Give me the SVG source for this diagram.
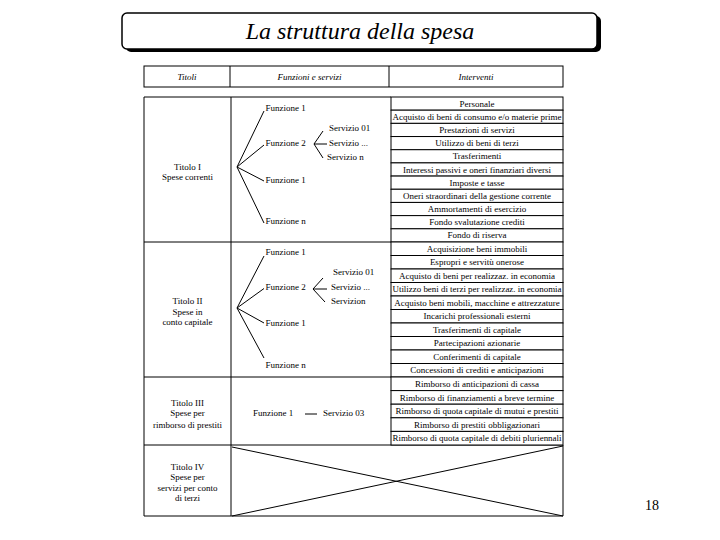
<svg xmlns="http://www.w3.org/2000/svg" width="720" height="540" viewBox="0 0 720 540">
<style>
text{font-family:"Liberation Serif","Times New Roman",serif;fill:#000}
.t{font-size:9px}
.c{text-anchor:middle}
.h{font-size:9px;font-style:italic;text-anchor:middle}
.ln{stroke:#000;stroke-width:1;fill:none}
.bx{fill:#fff;stroke:#000;stroke-width:1}
</style>
<rect width="720" height="540" fill="#fff"/>
<g id="title">
<rect x="126" y="16" width="475" height="36" rx="5" fill="#000"/>
<rect x="122" y="13" width="475" height="36" rx="5" fill="#fff" stroke="#000" stroke-width="1.5"/>
<text x="360" y="39" font-size="24" font-style="italic" text-anchor="middle">La struttura della spesa</text>
</g>
<g id="header">
<rect class="bx" x="144" y="66" width="419" height="21"/>
<line class="ln" x1="230" y1="66" x2="230" y2="87"/>
<line class="ln" x1="389" y1="66" x2="389" y2="87"/>
<text class="h" x="187" y="79.5">Titoli</text>
<text class="h" x="309.5" y="79.5">Funzioni e servizi</text>
<text class="h" x="476" y="79.5">Interventi</text>
</g>
<g id="frame">
<path class="ln" d="M144,97 H391 M144,97 V516 H563 V445 M231,97 V516 M144,242 H391 M144,377 H391 M144,445 H563"/>
</g>
<g id="titolo1">
<text class="t c" x="187.5" y="170.3">Titolo I</text>
<text class="t c" x="187.5" y="180">Spese correnti</text>
</g>
<g id="titolo2">
<text class="t c" x="187.5" y="303.7">Titolo II</text>
<text class="t c" x="187.5" y="314.7">Spese in</text>
<text class="t c" x="187.5" y="324.7">conto capitale</text>
</g>
<g id="titolo3">
<text class="t c" x="187.5" y="405.7">Titolo III</text>
<text class="t c" x="187.5" y="416.3">Spese per</text>
<text class="t c" x="187.5" y="428">rimborso di prestiti</text>
</g>
<g id="titolo4">
<text class="t c" x="187.5" y="469.7">Titolo IV</text>
<text class="t c" x="187.5" y="479.7">Spese per</text>
<text class="t c" x="187.5" y="491.3">servizi per conto</text>
<text class="t c" x="187.5" y="501.3">di terzi</text>
</g>
<g id="funzioni1">
<text class="t" x="265.5" y="110.5">Funzione 1</text>
<text class="t" x="265.5" y="145.5">Funzione 2</text>
<text class="t" x="265.5" y="182.5">Funzione 1</text>
<text class="t" x="265.5" y="224">Funzione n</text>
<text class="t" x="329" y="131">Servizio 01</text>
<text class="t" x="329" y="146">Servizio ...</text>
<text class="t" x="327" y="160">Servizio n</text>
</g>
<g id="funzioni2">
<text class="t" x="265.5" y="255">Funzione 1</text>
<text class="t" x="265.5" y="290">Funzione 2</text>
<text class="t" x="265.5" y="326">Funzione 1</text>
<text class="t" x="265.5" y="368">Funzione n</text>
<text class="t" x="333" y="275">Servizio 01</text>
<text class="t" x="331" y="290">Servizio ...</text>
<text class="t" x="331" y="304">Servizion</text>
</g>
<g id="funzioni3">
<text class="t" x="253" y="415.7">Funzione 1</text>
<text class="t" x="323" y="415.7">Servizio 03</text>
</g>
<g id="connectors">
<path class="ln" d="M237,167 L264,111 M237,167 L264,145 M237,167 L264,181 M237,167 L264,223"/>
<path class="ln" d="M314,144 L323,131 M314,144 L327,144 M314,144 L323,158"/>
<path class="ln" d="M237,308 L264,256 M237,308 L264,288.5 M237,308 L264,323 M237,308 L264,358"/>
<path class="ln" d="M313,289 L323,278 M313,289 L327,289 M313,289 L325,302"/>
<path class="ln" d="M305,414 L317,414"/>
<path class="ln" d="M232,447 L563,516 M232,516 L563,446"/>
</g>
<g id="interventi">
<rect class="bx" x="391" y="97" width="172" height="13.18"/>
<rect class="bx" x="391" y="110.18" width="172" height="13.18"/>
<rect class="bx" x="391" y="123.36" width="172" height="13.18"/>
<rect class="bx" x="391" y="136.54" width="172" height="13.18"/>
<rect class="bx" x="391" y="149.72" width="172" height="13.18"/>
<rect class="bx" x="391" y="162.9" width="172" height="13.18"/>
<rect class="bx" x="391" y="176.08" width="172" height="13.18"/>
<rect class="bx" x="391" y="189.26" width="172" height="13.18"/>
<rect class="bx" x="391" y="202.44" width="172" height="13.18"/>
<rect class="bx" x="391" y="215.62" width="172" height="13.18"/>
<rect class="bx" x="391" y="228.8" width="172" height="13.2"/>
<rect class="bx" x="391" y="242" width="172" height="13.5"/>
<rect class="bx" x="391" y="255.5" width="172" height="13.5"/>
<rect class="bx" x="391" y="269" width="172" height="13.5"/>
<rect class="bx" x="391" y="282.5" width="172" height="13.5"/>
<rect class="bx" x="391" y="296" width="172" height="13.5"/>
<rect class="bx" x="391" y="309.5" width="172" height="13.5"/>
<rect class="bx" x="391" y="323" width="172" height="13.5"/>
<rect class="bx" x="391" y="336.5" width="172" height="13.5"/>
<rect class="bx" x="391" y="350" width="172" height="13.5"/>
<rect class="bx" x="391" y="363.5" width="172" height="13.5"/>
<rect class="bx" x="391" y="377" width="172" height="13.6"/>
<rect class="bx" x="391" y="390.6" width="172" height="13.6"/>
<rect class="bx" x="391" y="404.2" width="172" height="13.6"/>
<rect class="bx" x="391" y="417.8" width="172" height="13.6"/>
<rect class="bx" x="391" y="431.4" width="172" height="13.6"/>
<text class="t c" x="477" y="106.6">Personale</text>
<text class="t c" x="477" y="119.8">Acquisto di beni di consumo e/o materie prime</text>
<text class="t c" x="477" y="133">Prestazioni di servizi</text>
<text class="t c" x="477" y="146.1">Utilizzo di beni di terzi</text>
<text class="t c" x="477" y="159.3">Trasferimenti</text>
<text class="t c" x="477" y="172.5">Interessi passivi e oneri finanziari diversi</text>
<text class="t c" x="477" y="185.7">Imposte e tasse</text>
<text class="t c" x="477" y="198.9">Oneri straordinari della gestione corrente</text>
<text class="t c" x="477" y="212">Ammortamenti di esercizio</text>
<text class="t c" x="477" y="225.2">Fondo svalutazione crediti</text>
<text class="t c" x="477" y="238.4">Fondo di riserva</text>
<text class="t c" x="477" y="251.8">Acquisizione beni immobili</text>
<text class="t c" x="477" y="265.3">Espropri e servitù onerose</text>
<text class="t c" x="477" y="278.8">Acquisto di beni per realizzaz. in economia</text>
<text class="t c" x="477" y="292.3" textLength="169" lengthAdjust="spacingAndGlyphs">Utilizzo beni di terzi per realizzaz. in economia</text>
<text class="t c" x="477" y="305.8">Acquisto beni mobili, macchine e attrezzature</text>
<text class="t c" x="477" y="319.3">Incarichi professionali esterni</text>
<text class="t c" x="477" y="332.8">Trasferimenti di capitale</text>
<text class="t c" x="477" y="346.3">Partecipazioni azionarie</text>
<text class="t c" x="477" y="359.8">Conferimenti di capitale</text>
<text class="t c" x="477" y="373.3">Concessioni di crediti e anticipazioni</text>
<text class="t c" x="477" y="386.9">Rimborso di anticipazioni di cassa</text>
<text class="t c" x="477" y="400.5">Rimborso di finanziamenti a breve termine</text>
<text class="t c" x="477" y="414.1">Rimborso di quota capitale di mutui e prestiti</text>
<text class="t c" x="477" y="427.7">Rimborso di prestiti obbligazionari</text>
<text class="t c" x="477" y="441.3" textLength="169" lengthAdjust="spacingAndGlyphs">Rimborso di quota capitale di debiti pluriennali</text>
</g>
<g id="page-number">
<text x="652" y="510" font-size="14" text-anchor="middle">18</text>
</g>
</svg>
